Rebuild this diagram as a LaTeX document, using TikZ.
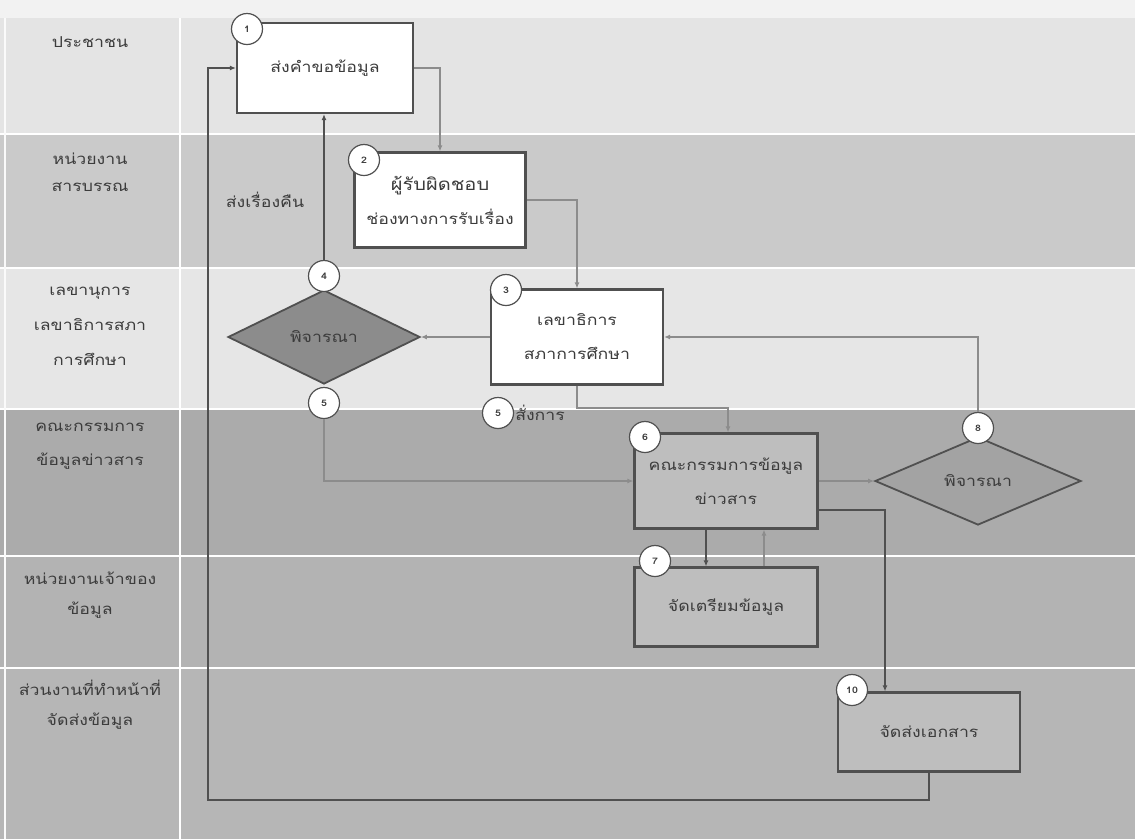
\documentclass[tikz,border=0pt]{standalone}
\usepackage{fontspec}
\newfontfamily\thai[Script=Thai,FakeStretch=1.18]{Loma}
\usetikzlibrary{shapes.geometric,arrows.meta}

\definecolor{laneA}{HTML}{E4E4E4}
\definecolor{laneB}{HTML}{CACACA}
\definecolor{laneC}{HTML}{E6E6E6}
\definecolor{laneD}{HTML}{ABABAB}
\definecolor{laneE}{HTML}{B3B3B3}
\definecolor{laneF}{HTML}{B6B6B6}
\definecolor{boxgray}{HTML}{BEBEBE}
\definecolor{inkgray}{HTML}{3C3C3C}
\definecolor{edgegray}{HTML}{505050}
\definecolor{linelight}{HTML}{8C8C8C}

\begin{document}
\begin{tikzpicture}[x=1pt,y=-1pt,
  every node/.style={font=\thai\fontsize{15}{18}\selectfont, text=inkgray},
  proc/.style={rectangle, draw=edgegray, line width=2.2pt, align=center,
               minimum width=#1, minimum height=90pt, inner sep=2pt},
  proc/.default=176pt,
  twoline/.style={font=\thai\fontsize{15}{34}\selectfont},
  decide/.style={diamond, draw=edgegray, line width=1.8pt, inner sep=0pt,
                 minimum width=192pt, minimum height=94pt},
  num/.style={circle, fill=white, draw=edgegray, line width=1.2pt,
              minimum size=31pt, inner sep=0pt,
              font=\thai\fontsize{9}{10}\selectfont\bfseries},
  lanelabel/.style={align=center, font=\thai\fontsize{15}{#1}\selectfont},
  lanelabel/.default=32,
  conn/.style={draw=linelight, line width=1.6pt, -{Latex[length=6pt,width=5pt]}},
  connd/.style={draw=edgegray, line width=2pt, -{Latex[length=6pt,width=5pt]}}]

\useasboundingbox (0,0) rectangle (1135,839);

% swim lanes
\fill[color=white!95!black] (0,0) rectangle (1135,20);
\fill[laneA] (0,18) rectangle (1135,134);
\fill[laneB] (0,134) rectangle (1135,268);
\fill[laneC] (0,268) rectangle (1135,409);
\fill[laneD] (0,409) rectangle (1135,556);
\fill[laneE] (0,556) rectangle (1135,668);
\fill[laneF] (0,668) rectangle (1135,839);
\foreach \yy in {134,268,409,556,668}
  \draw[white, line width=2.5pt] (0,\yy) -- (1135,\yy);
\draw[white, line width=2.5pt] (180,18) -- (180,839);
\draw[white!80!laneC, line width=1.2pt] (5,18) -- (5,839);

% lane titles
\node[lanelabel] (l1) at (90,42) {ประชาชน};
\node[lanelabel=27] (l2) at (90,172) {หน่วยงาน\\สารบรรณ};
\node[lanelabel=35] (l3) at (90,326) {เลขานุการ\\เลขาธิการสภา\\การศึกษา};
\node[lanelabel=34] (l4) at (90,446) {คณะกรรมการ\\ข้อมูลข่าวสาร};
\node[lanelabel=30] (l5) at (90,595) {หน่วยงานเจ้าของ\\ข้อมูล};
\node[lanelabel=30] (l6) at (90,705) {ส่วนงานที่ทำหน้าที่\\จัดส่งข้อมูล};

% process boxes
\node[proc=176pt, fill=white] (b1) at (325,68) {ส่งคำขอข้อมูล};
\node[proc=171pt, fill=white, minimum height=95pt, twoline]
  (b2) at (440,200) {{\fontsize{17}{18}\selectfont ผู้รับผิดชอบ}\\ช่องทางการรับเรื่อง};
\node[proc=172pt, fill=white, minimum height=95pt, twoline]
  (b3) at (577,337) {เลขาธิการ\\สภาการศึกษา};
\node[proc=183pt, fill=boxgray, minimum height=95pt, twoline]
  (b6) at (726,481) {คณะกรรมการข้อมูล\\ข่าวสาร};
\node[proc=183pt, fill=boxgray, minimum height=79pt] (b7) at (726,607) {จัดเตรียมข้อมูล};
\node[proc=182pt, fill=boxgray, minimum height=79pt] (b10) at (929,732) {จัดส่งเอกสาร};

% decisions
\node[decide, fill=black!45] (d4) at (324,337) {พิจารณา};
\node[decide, fill=black!36, minimum width=206pt, minimum height=88pt] (d8) at (978,481) {พิจารณา};

% step numbers
\node[num] (c1) at (247,29) {1};
\node[num] (c2) at (364,160) {2};
\node[num] (c3) at (506,290) {3};
\node[num] (c4) at (324,276) {4};
\node[num] (c5) at (324,403) {5};
\node[num] (c5b) at (498,413) {5};
\node[num] (c6) at (645,437) {6};
\node[num] (c7) at (655,561) {7};
\node[num] (c8) at (978,428) {8};
\node[num] (c10) at (852,690) {10};

% arrow labels
\node (t1) at (265,200) {ส่งเรื่องคืน};
\node[anchor=west, inner sep=1pt] (t2) at (c5b.east) {สั่งการ};

% connectors
\coordinate (k1) at (728,408);
\coordinate (k2) at (208,800);
\draw[conn] (b1.east) -| (b2.north);
\draw[conn] (b2.east) -| (b3.north);
\draw[conn] (b3.west) -- (d4.east);
\draw[connd] (c4.north) -- (c4.north |- b1.south);
\draw[conn] (c5.south) |- (b6.west);
\draw[conn] (b3.south) |- (k1) -- (k1 |- b6.north);
\draw[conn] (b6.east) -- (d8.west);
\draw[conn] (c8.north) |- (b3.east);
\draw[connd] ([xshift=-20pt]b6.south) -- ([xshift=-20pt]b7.north);
\draw[conn] ([xshift=38pt]b7.north) -- ([xshift=38pt]b6.south);
\draw[connd] ([yshift=-29pt]b6.east) -| ([xshift=-44pt]b10.north);
\draw[connd] (b10.south) |- (k2) |- (b1.west);
\end{tikzpicture}
\end{document}
